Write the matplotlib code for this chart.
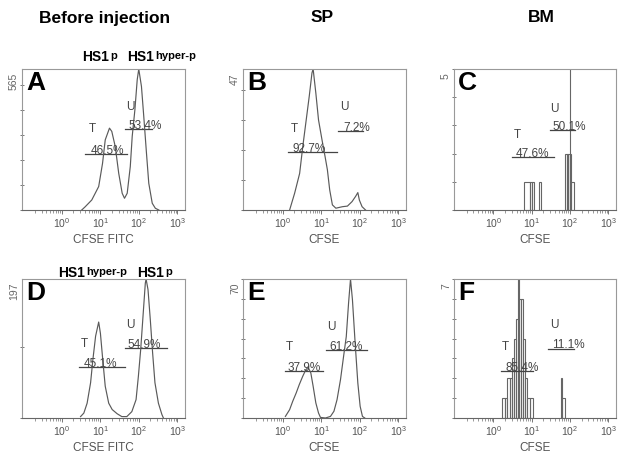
import numpy as np
import matplotlib
matplotlib.use('Agg')
from matplotlib import pyplot as plt

plt.rcParams['font.family'] = ['Liberation Sans', 'DejaVu Sans']
plt.rcParams['mathtext.fontset'] = 'custom'
plt.rcParams['mathtext.rm'] = 'Liberation Sans'
plt.rcParams['mathtext.bf'] = 'Liberation Sans:bold'


# histogram outlines, x given as log10(CFSE), y as cell counts
a_logx = [0.52, 0.61, 0.78, 0.96, 1.06, 1.13, 1.24, 1.30, 1.39, 1.48, 1.57, 1.63, 1.70,
          1.78, 1.83, 1.90, 1.96, 2.00, 2.07, 2.13, 2.20, 2.26, 2.35, 2.43, 2.52]
a_counts = [0, 13, 40, 94, 187, 281, 328, 315, 254, 147, 67, 47, 67,
            174, 295, 402, 522, 565, 495, 375, 228, 107, 27, 7, 0]

b_logx = [0.18, 0.31, 0.44, 0.52, 0.61, 0.69, 0.76, 0.79, 0.86, 0.93, 1.02, 1.10, 1.16,
          1.22, 1.29, 1.38, 1.55, 1.68, 1.80, 1.89, 1.95, 1.99, 2.06, 2.15]
b_counts = [0, 5.6, 12.2, 21, 30, 38, 45.7, 47, 39, 30, 23.4, 17.8, 13.4,
            6.7, 1.7, 0.6, 1.1, 1.3, 2.8, 4.5, 5.8, 3.3, 1.1, 0]

d_logx = [0.49, 0.575, 0.66, 0.75, 0.81, 0.88, 0.96, 1.005, 1.065, 1.13, 1.22, 1.31, 1.44,
          1.56, 1.69, 1.82, 1.93, 1.99, 2.05, 2.11, 2.17, 2.19, 2.24, 2.30, 2.36, 2.42,
          2.51, 2.60, 2.64]
d_counts = [2, 7, 21, 50, 83, 116, 136, 120, 83, 45, 21, 12, 6,
            2, 2, 9, 26, 59, 97, 144, 191, 197, 182, 139, 92, 50,
            21, 5, 0]

e_logx = [0.07, 0.18, 0.26, 0.35, 0.43, 0.52, 0.60, 0.66, 0.73, 0.79, 0.86, 0.93, 0.98,
          1.11, 1.24, 1.33, 1.41, 1.50, 1.58, 1.65, 1.71, 1.76, 1.81, 1.88, 1.95, 2.01,
          2.07, 2.13]
e_counts = [0.8, 4.2, 8.4, 12.6, 16.8, 21, 24.3, 25.5, 22.7, 16, 7.6, 2.5, 0.3,
            0, 0.8, 3.4, 9.2, 19.3, 31, 41, 58, 70, 59.6, 37.8, 17.6, 5.9,
            0.8, 0]

# BM panels have so few events they show as single channels
c_left = [0.79, 0.95, 1.00, 1.19, 1.88, 1.92, 1.95, 1.99, 2.01, 2.03]
c_right = [0.95, 1.00, 1.06, 1.25, 1.92, 1.95, 1.99, 2.01, 2.03, 2.11]
c_counts = [1, 1, 1, 1, 2, 2, 2, 5, 2, 1]

f_left = [0.217, 0.304, 0.365, 0.426, 0.478, 0.539, 0.600, 0.643, 0.670, 0.722, 0.774,
          0.826, 0.887, 0.948, 1.757, 1.800]
f_right = [0.304, 0.365, 0.426, 0.478, 0.539, 0.600, 0.643, 0.670, 0.722, 0.774, 0.826,
           0.887, 0.948, 1.035, 1.800, 1.860]
f_counts = [1, 1, 2, 2, 3, 4, 5, 7, 6, 6, 4, 2, 1, 1, 2, 1]

ymax = [565, 47, 5, 197, 70, 7]
ystep = [100, 10, 1, 100, 10, 1]
letters = ['A', 'B', 'C', 'D', 'E', 'F']
xlabels = ['CFSE FITC', 'CFSE', 'CFSE', 'CFSE FITC', 'CFSE', 'CFSE']
col_titles = ['Before injection', 'SP', 'BM']

# gates: T line (x0, x1, y), T label (x, y), U line, U label ; x in log10
t_gates = [(0.61, 1.70, 225), (0.13, 1.41, 19.2), (0.48, 1.59, 1.87),
           (0.46, 1.65, 72), (0.05, 1.04, 23.5), (0.19, 1.02, 2.35)]
t_marks = [(0.71, 300), (0.20, 25), (0.54, 2.46), (0.49, 97), (0.09, 32.7), (0.22, 3.27)]
t_pct = ['46.5%', '92.7%', '47.6%', '45.1%', '37.9%', '85.4%']
t_pct_x = [0.74, 0.26, 0.585, 0.575, 0.13, 0.32]
u_gates = [(1.63, 2.35, 324), (1.44, 2.09, 26.5), (1.47, 2.14, 2.82),
           (1.63, 2.73, 99), (1.13, 2.18, 34.4), (1.43, 2.10, 3.5)]
u_marks = [(1.68, 388), (1.48, 32.3), (1.47, 3.38), (1.68, 123), (1.155, 42.8), (1.47, 4.36)]
u_pct = ['53.4%', '7.2%', '50.1%', '54.9%', '61.2%', '11.1%']
u_pct_x = [1.74, 1.58, 1.53, 1.72, 1.22, 1.52]


W, H = 618.0, 458.0
fig = plt.figure(figsize=(W / 100, H / 100), dpi=100)

cols = [(22, 185), (243, 406), (454, 616)]
rows = [(69, 210), (279, 418)]
xlab_y = [240, 448]

ink = '#5a5a5a'

axes = []
for i in range(6):
    r, c = divmod(i, 3)
    x0, x1 = cols[c]
    y0, y1 = rows[r]
    ax = fig.add_axes([x0 / W, 1 - y1 / H, (x1 - x0) / W, (y1 - y0) / H])
    axes.append(ax)

    ax.set_xscale('log')
    ax.set_xlim(10 ** -1.03, 10 ** 3.2)
    ax.set_ylim(0, ymax[i])
    ax.set_xticks([1, 10, 100, 1000])
    ax.set_xticklabels([r'$10^{0}$', r'$10^{1}$', r'$10^{2}$', r'$10^{3}$'])
    ax.xaxis.set_minor_formatter(matplotlib.ticker.NullFormatter())
    ax.set_yticks(np.arange(0, ymax[i] + 0.01, ystep[i]))
    ax.set_yticklabels([])
    ax.tick_params(axis='x', which='major', length=3, width=0.7, color='#777777',
                   labelsize=7.5, labelcolor='#555555', pad=1.5)
    ax.tick_params(axis='x', which='minor', length=2, width=0.6, color='#888888')
    ax.tick_params(axis='y', length=3, width=0.7, color='#777777', direction='inout')
    for s in ax.spines.values():
        s.set_color('#999999')
        s.set_linewidth(0.8)
    ax.spines['bottom'].set_color('#666666')

    ax.annotate(str(ymax[i]), xy=(0, 1), xycoords='axes fraction', xytext=(-8, -4),
                textcoords='offset pixels', rotation=90, ha='center', va='top',
                fontsize=7.5, color='#666666')
    ax.annotate(letters[i], xy=(0, 1), xycoords='axes fraction', xytext=(4, -2),
                textcoords='offset pixels', ha='left', va='top',
                fontsize=19, fontweight='bold')

    fig.text((x0 + x1) / 2 / W, 1 - xlab_y[r] / H, xlabels[i], ha='center', va='center',
             fontsize=8.5, color='#555555')

    # gates
    gx0, gx1, gy = t_gates[i]
    ax.plot([10 ** gx0, 10 ** gx1], [gy, gy], color='#444444', lw=0.9)
    ax.text(10 ** t_marks[i][0], t_marks[i][1], 'T', fontsize=8.5, color='#444444', va='bottom')
    ax.text(10 ** t_pct_x[i], gy, t_pct[i], fontsize=8.5, color='#444444', va='baseline')
    gx0, gx1, gy = u_gates[i]
    ax.plot([10 ** gx0, 10 ** gx1], [gy, gy], color='#444444', lw=0.9)
    ax.text(10 ** u_marks[i][0], u_marks[i][1], 'U', fontsize=8.5, color='#444444', va='bottom')
    ax.text(10 ** u_pct_x[i], gy, u_pct[i], fontsize=8.5, color='#444444', va='baseline')

# the smooth histograms
axes[0].plot(10 ** np.array(a_logx), a_counts, color=ink, lw=0.85)
axes[1].plot(10 ** np.array(b_logx), b_counts, color=ink, lw=0.85)
axes[3].plot(10 ** np.array(d_logx), d_counts, color=ink, lw=0.85)
axes[4].plot(10 ** np.array(e_logx), e_counts, color=ink, lw=0.85)

# channel bars for the bone marrow
for ax, lo, hi, n in [(axes[2], c_left, c_right, c_counts), (axes[5], f_left, f_right, f_counts)]:
    lo = 10 ** np.array(lo)
    hi = 10 ** np.array(hi)
    ax.bar(lo, n, width=hi - lo, align='edge', facecolor='none',
           edgecolor='#666666', lw=0.8)

# column titles
title_x = [105, 322, 541]
for c, t in enumerate(col_titles):
    fig.text(title_x[c] / W, 1 - 18 / H, t, ha='center', va='center', fontsize=12.5, fontweight='bold')


def hs1(ax, x, y, sup):
    t = fig.text(x / W, 1 - y / H, 'HS1', fontsize=10, fontweight='bold', ha='left', va='baseline')
    ax.annotate(sup, xy=(1, 1), xycoords=t, xytext=(1, -1), textcoords='offset pixels',
                ha='left', va='top', fontsize=8, fontweight='bold', annotation_clip=False)


hs1(axes[0], 82, 61, 'p')
hs1(axes[0], 127, 61, 'hyper-p')
hs1(axes[3], 58, 277, 'hyper-p')
hs1(axes[3], 137, 277, 'p')

plt.savefig('out.png', dpi=100)
